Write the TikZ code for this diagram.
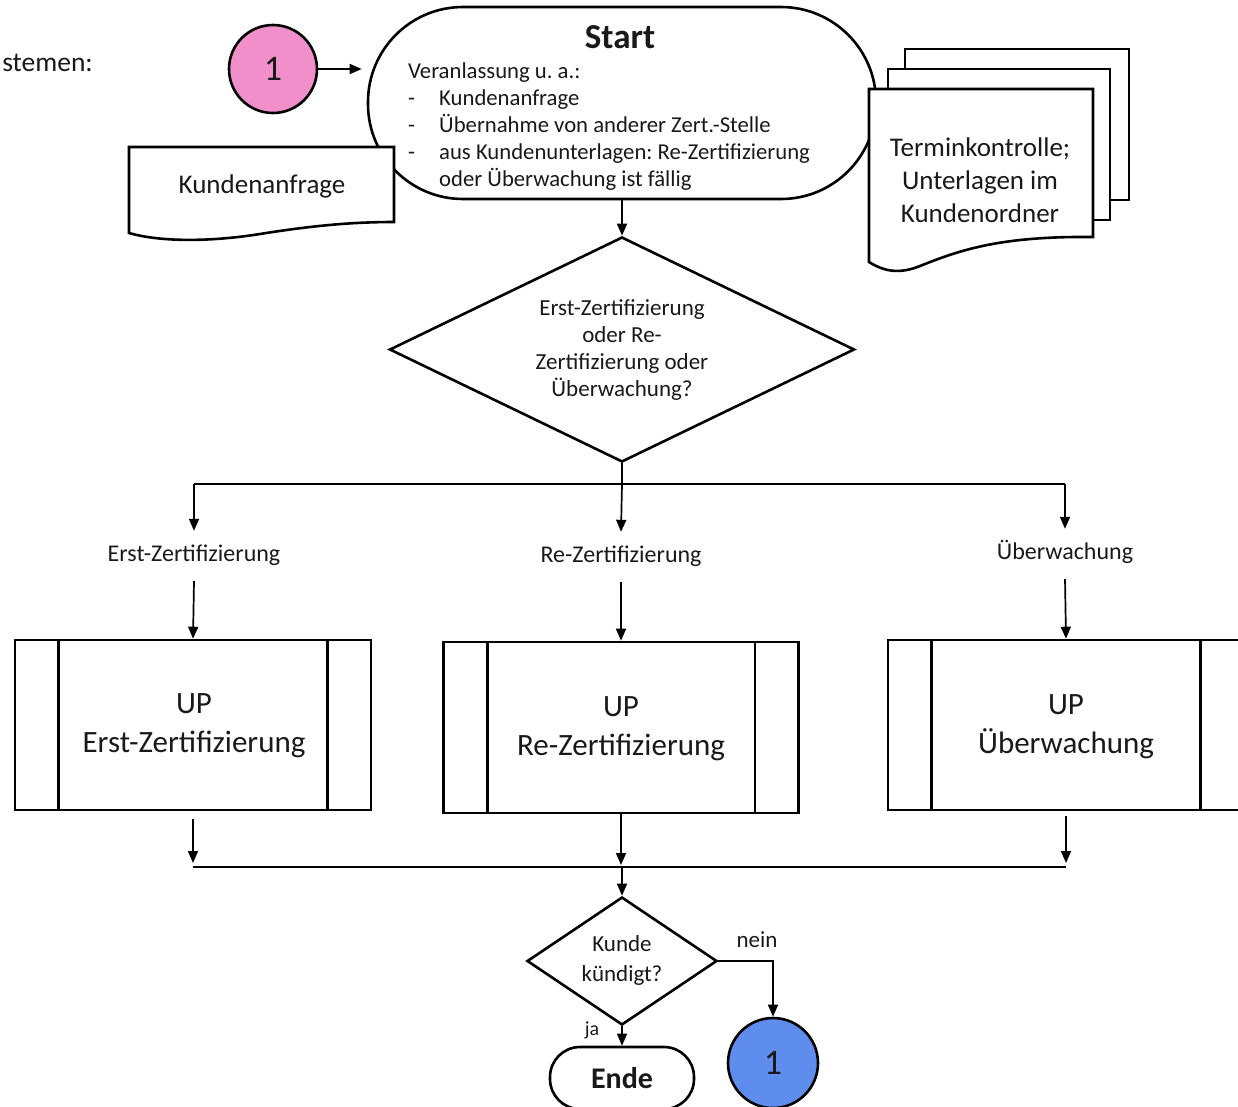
\documentclass[tikz,border=0pt]{standalone}
\usepackage{fontspec}
\setmainfont{Carlito}
\usetikzlibrary{shapes.geometric,arrows.meta}
\definecolor{pinkc}{RGB}{241,143,203}
\definecolor{bluec}{RGB}{94,141,238}
\definecolor{ink}{RGB}{25,25,25}
\newcommand\myfs[2]{\fontsize{#1}{#2}\selectfont}
\frenchspacing
\begin{document}
\begin{tikzpicture}[x=1pt,y=-1pt, every node/.style={text=ink},
  shp/.style={draw, line width=2.6pt, fill=white},
  conn/.style={line width=1.7pt},
  arr/.style={conn, -{Triangle[length=12pt,width=10pt]}},
  lab/.style={font=\myfs{24}{28}, minimum height=50pt, inner sep=0pt, text height=16pt, text depth=5pt},
  txt/.style={font=\myfs{22.7}{27}, inner sep=0pt}]
\useasboundingbox (0,0) rectangle (1238,1106);
\clip (0,0) rectangle (1238,1106);

% cut-off heading
\node[anchor=base east, font=\myfs{27.5}{30}, inner sep=0pt] (st) at (93,71) {stemen:};

% connector circle 1 (pink)
\node[shp, circle, fill=pinkc, minimum size=88pt, inner sep=0pt, font=\myfs{36}{36}] (c1) at (273,69) {1};

% start terminal
\node[shp, rounded corners=95pt, minimum width=508pt, minimum height=192pt] (start) at (622,103) {};
\node[anchor=base, font=\myfs{35}{35}\bfseries, inner sep=0pt] (starttitle) at (620,48) {Start};
\node[txt, anchor=base west] (s1) at (408,78) {Veranlassung u.\ a.:};
\node[txt, anchor=base west] (s2d) at (408,105) {-};
\node[txt, anchor=base west] (s2) at (439,105) {Kundenanfrage};
\node[txt, anchor=base west] (s3d) at (408,132) {-};
\node[txt, anchor=base west] (s3) at (439,132) {Übernahme von anderer Zert.-Stelle};
\node[txt, anchor=base west] (s4d) at (408,159) {-};
\node[txt, anchor=base west] (s4) at (439,159) {aus Kundenunterlagen: Re-Zertifizierung};
\node[txt, anchor=base west] (s5) at (439,186) {oder Überwachung ist fällig};

\draw[arr, shorten >=5pt] (c1.east) -- (c1.east -| start.west);

% Kundenanfrage document
\draw[shp] (129,147) -- (394,147) -- (394,222)
  .. controls (350,222) and (310,226) .. (260,234)
  .. controls (210,242) and (160,242) .. (129,233) -- cycle;
\node[font=\myfs{27}{30}, inner sep=0pt] (kdoc) at (262,186) {Kundenanfrage};

% document stack
\draw[shp] (905,49) rectangle (1129,200);
\draw[shp] (888,69) rectangle (1110,220);
\draw[shp] (869,89) -- (1093,89) -- (1093,237)
  .. controls (1000,236) and (960,250) .. (920,266)
  .. controls (900,274) and (885,272) .. (869,262) -- cycle;
\node[font=\myfs{27}{33}, align=center, inner sep=0pt] (tdoc) at (980,180) {Terminkontrolle;\\Unterlagen im\\Kundenordner};

% decision 1
\node[shp, diamond, minimum width=465pt, minimum height=225pt, inner sep=0pt] (d1) at (622,349.5) {};
\node[font=\myfs{23}{27}, align=center, inner sep=0pt] (d1t) at (622,350) {Erst-Zertifizierung\\oder Re-\\Zertifizierung oder\\Überwachung?};
\draw[arr] (start.south) -- (d1.north);

% branch
\coordinate (j1) at (622,484);
\node[lab] (l1) at (194,556) {Erst-Zertifizierung};
\node[lab] (l2) at (621,557) {Re-Zertifizierung};
\node[lab] (l3) at (1065,554) {Überwachung};
\draw[conn] (d1.south) -- (j1);
\draw[conn] (l1.north |- j1) -- (l3.north |- j1);
\draw[arr] (l1.north |- j1) -- (l1.north);
\draw[arr] (j1) -- (l2.north);
\draw[arr] (l3.north |- j1) -- (l3.north);

% sub-process boxes
\node[shp, minimum width=356pt, minimum height=170pt] (b1) at (193,725) {};
\node[shp, minimum width=355pt, minimum height=171pt] (b2) at (621,727.5) {};
\node[shp, minimum width=356pt, minimum height=170pt] (b3) at (1066,725) {};
\foreach \b in {b1,b2,b3}{
  \draw[line width=2.6pt] ([xshift=45pt]\b.north west) -- ([xshift=45pt]\b.south west);
  \draw[line width=2.6pt] ([xshift=-45pt]\b.north east) -- ([xshift=-45pt]\b.south east);
}
\node[font=\myfs{31}{39}, align=center, inner sep=0pt] (b1t) at (194,726) {UP\\Erst-Zertifizierung};
\node[font=\myfs{31}{39}, align=center, inner sep=0pt] (b2t) at (621,729) {UP\\Re-Zertifizierung};
\node[font=\myfs{31}{39}, align=center, inner sep=0pt] (b3t) at (1066,727) {UP\\Überwachung};
\draw[arr] (l1.south) -- (b1.north);
\draw[arr] (l2.south) -- (b2.north);
\draw[arr] (l3.south) -- (b3.north);

% merge
\coordinate (j2) at (622,867);
\draw[conn] (b1.south |- j2) -- (b3.south |- j2);
\draw[arr, shorten <=8pt, shorten >=4pt] (b1.south) -- (b1.south |- j2);
\draw[arr, shorten >=2pt] (b2.south) -- (b2.south |- j2);
\draw[arr, shorten <=5pt, shorten >=4pt] (b3.south) -- (b3.south |- j2);

% decision 2
\node[shp, diamond, minimum width=190pt, minimum height=128pt, inner sep=0pt] (d2) at (622,961) {};
\node[font=\myfs{23}{30}, align=center, inner sep=0pt] (d2t) at (622,960) {Kunde\\kündigt?};
\draw[arr] (j2) -- (d2.north);

% connector circle 1 (blue)
\node[shp, circle, fill=bluec, minimum size=90pt, inner sep=0pt, font=\myfs{36}{36}] (c2) at (773,1063) {1};
\draw[arr] (d2.east) -| (c2.north);
\node[font=\myfs{23}{26}, inner sep=0pt] (nein) at (757,940) {nein};

% end
\node[shp, rounded corners=30pt, minimum width=144pt, minimum height=62pt, font=\myfs{30}{30}\bfseries] (ende) at (622,1078) {Ende};
\draw[arr] (d2.south) -- (ende.north);
\node[font=\myfs{20}{22}, inner sep=0pt] (ja) at (592,1030) {ja};
\end{tikzpicture}
\end{document}
